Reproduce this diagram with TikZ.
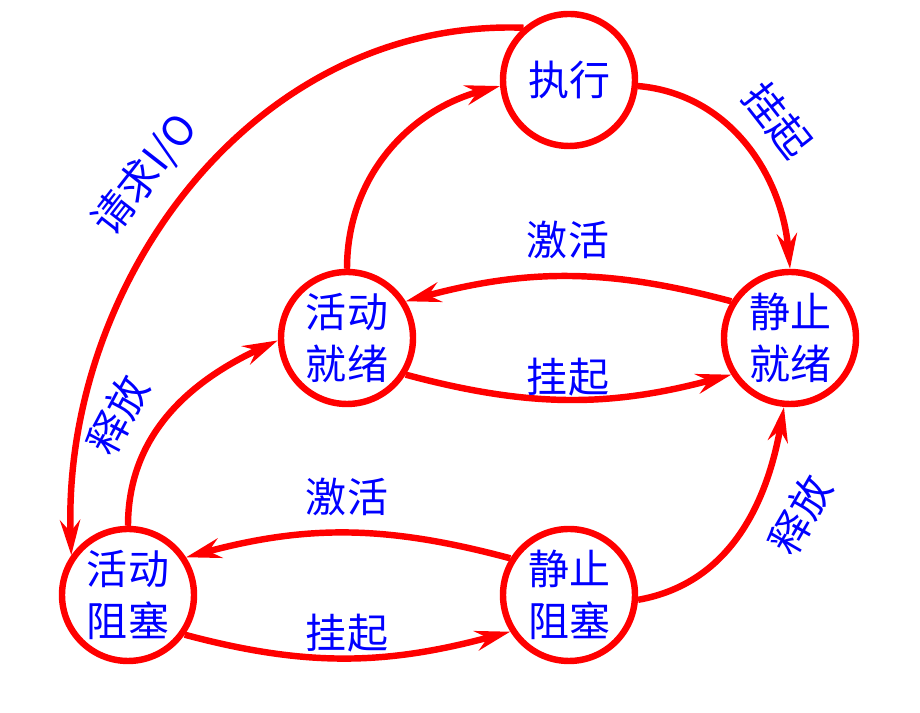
\documentclass[tikz,border=0pt]{standalone}
\usepackage{fontspec}
\setmainfont{Noto Sans CJK SC}
\usepackage{xcolor}
\usetikzlibrary{arrows.meta}

\tikzset{
    state/.style={circle, draw=red, line width=5.5pt, minimum size=3.96cm, inner sep=0pt,
        text=blue, align=center, font=\fontsize{35}{44}\selectfont},
    trans/.style={draw=red, line width=5.5pt,
        -{Stealth[length=1.05cm, width=0.6cm, inset=0.35cm, fill=black]}},
    lbl/.style={text=blue, font=\fontsize{35}{44}\selectfont, inner sep=0pt}
}

\begin{document}
\begin{tikzpicture}[x=0.03cm, y=0.03cm]
        \useasboundingbox (0,0) rectangle (920,713);

        \node[state] (exec) at (569, 633) {执行};
        \node[state] (aready) at (347, 375) {活动\\就绪};
        \node[state] (sready) at (790, 375) {静止\\就绪};
        \node[state] (ablock) at (128, 118) {活动\\阻塞};
        \node[state] (sblock) at (569, 118) {静止\\阻塞};

        \draw[trans] (exec.-5) to[out=-5, in=95] (sready.north);
        \draw[trans] (aready.north) to[out=90, in=195] (exec.185);
        \draw[trans] (sready.148) to[out=165, in=15] (aready.32);
        \draw[trans] (aready.-32) to[out=-15, in=195] (sready.212);
        \draw[trans] (exec.131) to[out=178, in=92] (ablock.145);
        \draw[trans] (ablock.north) to[out=90, in=205] (aready.182);
        \draw[trans] (sblock.148) to[out=165, in=15] (ablock.33);
        \draw[trans] (ablock.-35) to[out=-15, in=195] (sblock.212);
        \draw[trans] (sblock.-4) to[out=10, in=260] (sready.-95);

        \node[lbl, rotate=52] (l1) at (145, 538) {请求I/O};
        \node[lbl, rotate=-52] (l2) at (778, 593) {挂起};
        \node[lbl] (l3) at (568, 473) {激活};
        \node[lbl] (l4) at (568, 336) {挂起};
        \node[lbl, rotate=62] (l5) at (118, 298) {释放};
        \node[lbl] (l6) at (347, 216) {激活};
        \node[lbl] (l7) at (347, 80) {挂起};
        \node[lbl, rotate=60] (l8) at (800, 198) {释放};
    \end{tikzpicture}
\end{document}
